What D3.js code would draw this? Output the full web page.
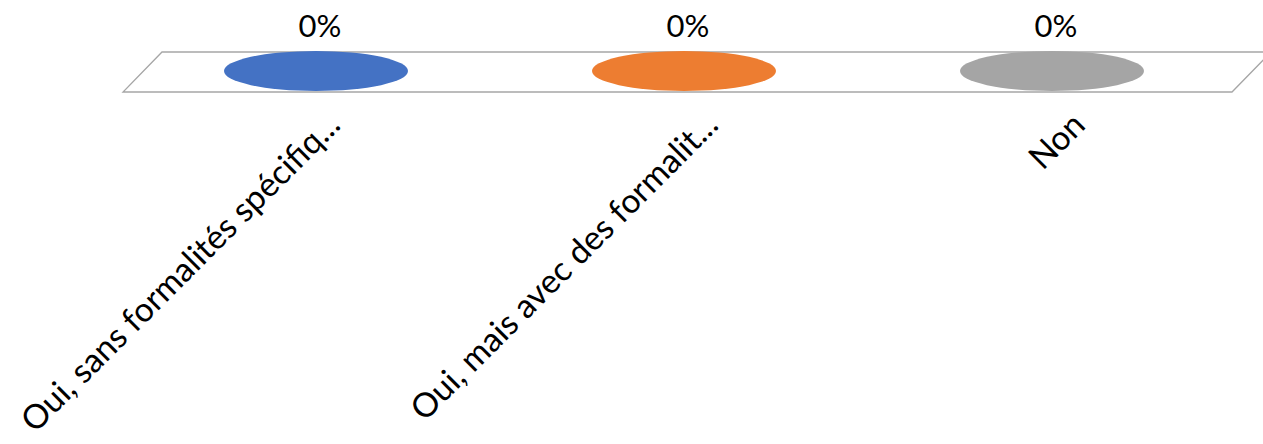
<!DOCTYPE html>
<html><head><meta charset="utf-8">
<script src="https://cdn.jsdelivr.net/npm/d3@7"></script>
<style>body{margin:0;background:#fff;}svg{display:block;}</style>
</head><body>
<svg id="c" width="1263" height="444"></svg>
<script>
const categories = ["Oui, sans formalités spécifiq...", "Oui, mais avec des formalit...", "Non"];
const values = [0, 0, 0];
const valueLabels = ["0%", "0%", "0%"];
const colors = ["#4472C4", "#ED7D31", "#A5A5A5"];

const svg = d3.select("#c");
const x = d3.scaleBand().domain(categories).range([132, 1236]).padding(0);
const y = d3.scaleLinear().domain([0, 1]).range([71, -200]);
const depth = 39;
const floorFront = 92, floorBack = 52;

svg.append("path")
  .attr("d", `M123,${floorFront} L1232,${floorFront} L${1232+depth},${floorBack} L${123+depth},${floorBack} Z`)
  .attr("fill", "none").attr("stroke", "#A6A6A6").attr("stroke-width", 1.3);

const g = svg.append("g");
g.selectAll("ellipse").data(categories).join("ellipse")
  .attr("cx", d => x(d) + x.bandwidth()/2)
  .attr("cy", (d,i) => y(values[i]))
  .attr("rx", 92).attr("ry", 20)
  .attr("fill", (d,i) => colors[i]);

g.selectAll("text.val").data(categories).join("text").attr("class","val")
  .attr("x", d => x(d) + x.bandwidth()/2 + 4)
  .attr("y", (d,i) => y(values[i]) - 34)
  .attr("text-anchor", "middle")
  .attr("font-family", "Lato, 'Open Sans', sans-serif").attr("font-size", 31)
  .attr("fill", "#000")
  .text((d,i) => valueLabels[i]);

const offs = [26, 36, 35];
g.selectAll("text.cat").data(categories).join("text").attr("class","cat")
  .attr("transform", (d,i) => `translate(${x(d) + x.bandwidth()/2 + offs[i]},${127}) rotate(-45)`)
  .attr("text-anchor", "end")
  .attr("font-family", "Lato, 'Open Sans', sans-serif").attr("font-size", 33.5)
  .attr("fill", "#000")
  .text(d => d);
</script>
</body></html>
